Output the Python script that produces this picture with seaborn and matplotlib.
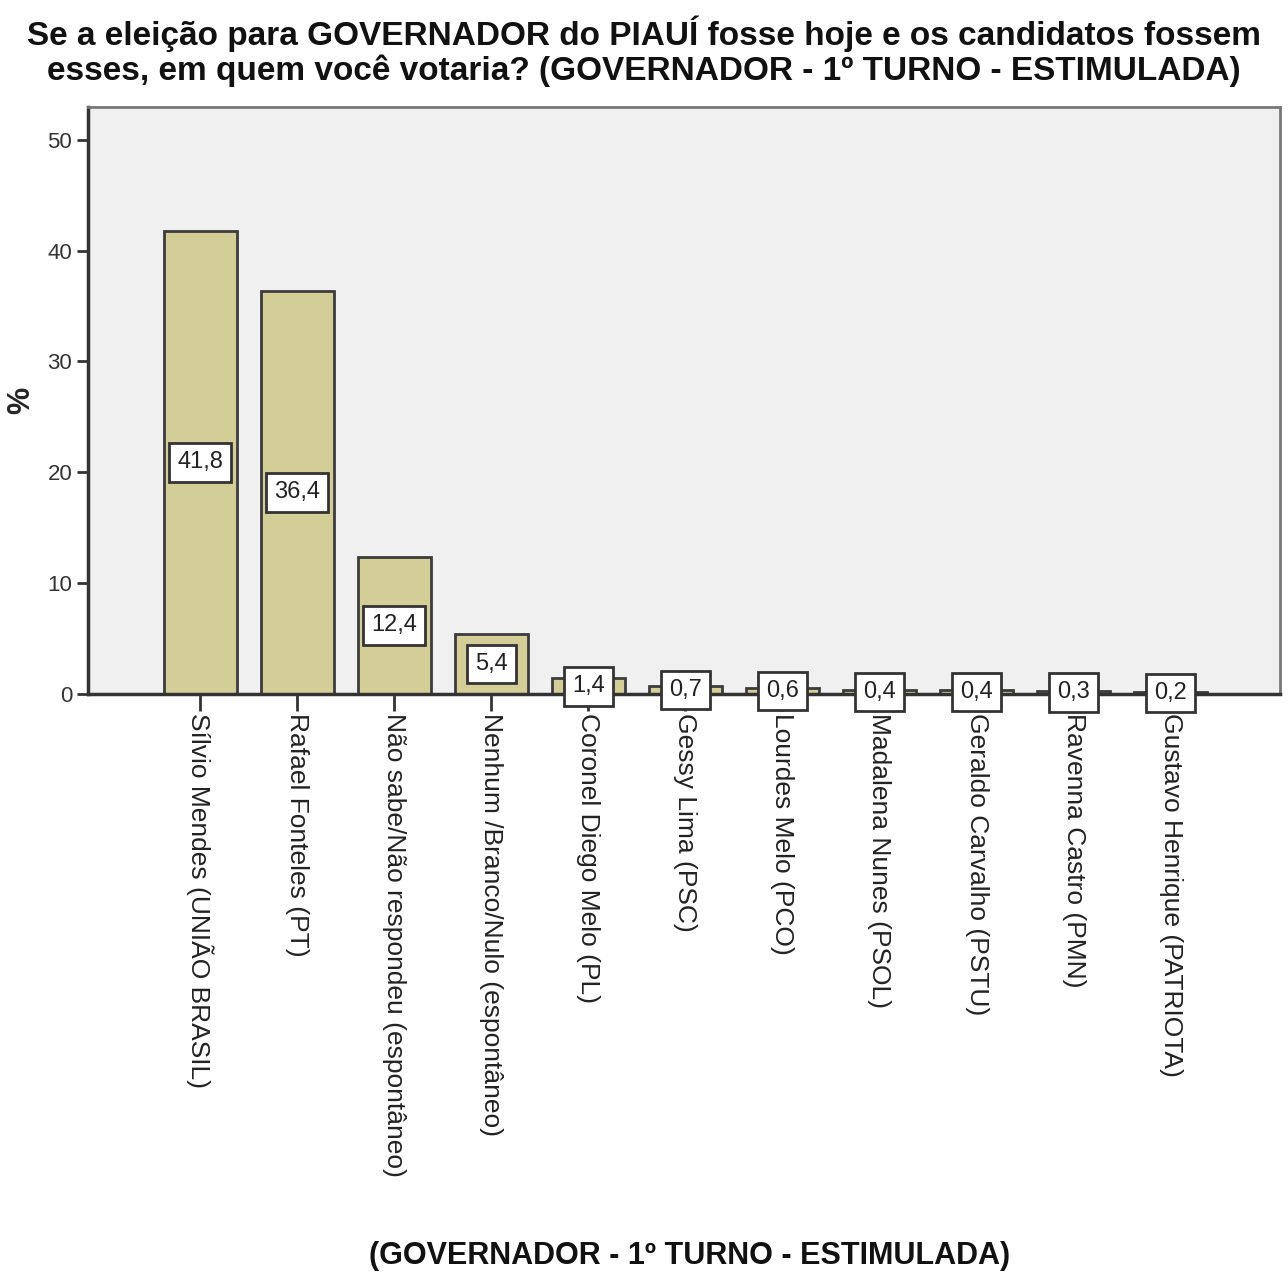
import matplotlib
matplotlib.use("Agg")
import matplotlib.pyplot as plt
import seaborn as sns
import pandas as pd

# Data
categories = [
    "Sílvio Mendes (UNIÃO BRASIL)",
    "Rafael Fonteles (PT)",
    "Não sabe/Não respondeu (espontâneo)",
    "Nenhum /Branco/Nulo (espontâneo)",
    "Coronel Diego Melo (PL)",
    "Gessy Lima (PSC)",
    "Lourdes Melo (PCO)",
    "Madalena Nunes (PSOL)",
    "Geraldo Carvalho (PSTU)",
    "Ravenna Castro (PMN)",
    "Gustavo Henrique (PATRIOTA)",
]
values = [41.8, 36.4, 12.4, 5.4, 1.4, 0.7, 0.5, 0.4, 0.4, 0.3, 0.2]
value_labels = ["41,8", "36,4", "12,4", "5,4", "1,4", "0,7", "0,6", "0,4", "0,4", "0,3", "0,2"]
yticks = [0, 10, 20, 30, 40, 50]

title = ("Se a eleição para GOVERNADOR do PIAUÍ fosse hoje e os candidatos fossem\n"
         "esses, em quem você votaria? (GOVERNADOR - 1º TURNO - ESTIMULADA)")
xlabel = "(GOVERNADOR - 1º TURNO - ESTIMULADA)"

df = pd.DataFrame({"cat": categories, "pct": values})

sns.set_style("white")
plt.rcParams["font.family"] = ["Liberation Sans", "DejaVu Sans"]

fig = plt.figure(figsize=(12.88, 12.84), dpi=100)
ax = fig.add_axes([0.068, 0.4595, 0.926, 0.4575])
ax.set_facecolor("#F0F0F0")

sns.barplot(x="cat", y="pct", data=df, color="#D3CE98", edgecolor="#3C3C3C",
            linewidth=2, width=0.75, saturation=1, ax=ax)

ax.set_ylim(0, 53)
ax.set_xlim(-1.16, 11.13)
ax.set_yticks(yticks)
ax.set_yticklabels([str(t) for t in yticks], fontsize=16, color="#333333")
ax.set_xticks(range(len(categories)))
ax.set_xticklabels(categories, rotation=270, fontsize=19, ha="center", va="top",
                   color="#222222")
ax.tick_params(axis="y", direction="out", length=8, width=2, color="#333333", pad=3,
               left=True)
ax.tick_params(axis="x", direction="out", length=12, width=2, color="#333333", pad=2,
               bottom=True)

for side in ["left", "bottom"]:
    ax.spines[side].set_color("#333333")
    ax.spines[side].set_linewidth(2.5)
for side in ["top", "right"]:
    ax.spines[side].set_color("#777777")
    ax.spines[side].set_linewidth(2)

# value labels in white boxes at half bar height
for patch, lab in zip(ax.patches, value_labels):
    xc = patch.get_x() + patch.get_width() / 2
    yc = patch.get_height() / 2
    ax.text(xc, yc, lab, ha="center", va="center", fontsize=17, color="#222222",
            bbox=dict(boxstyle="square,pad=0.35", fc="white", ec="#333333", lw=2))

ax.set_ylabel("%", fontsize=22, fontweight="bold", labelpad=8)
ax.set_xlabel("")
fig.text(0.5, 0.988, title, ha="center", va="top", fontsize=24, fontweight="bold",
         linespacing=1.1, color="#111111")
fig.text(0.535, 0.022, xlabel, ha="center", va="center", fontsize=22,
         fontweight="bold", color="#111111")

fig.savefig("out.png", dpi=100)
